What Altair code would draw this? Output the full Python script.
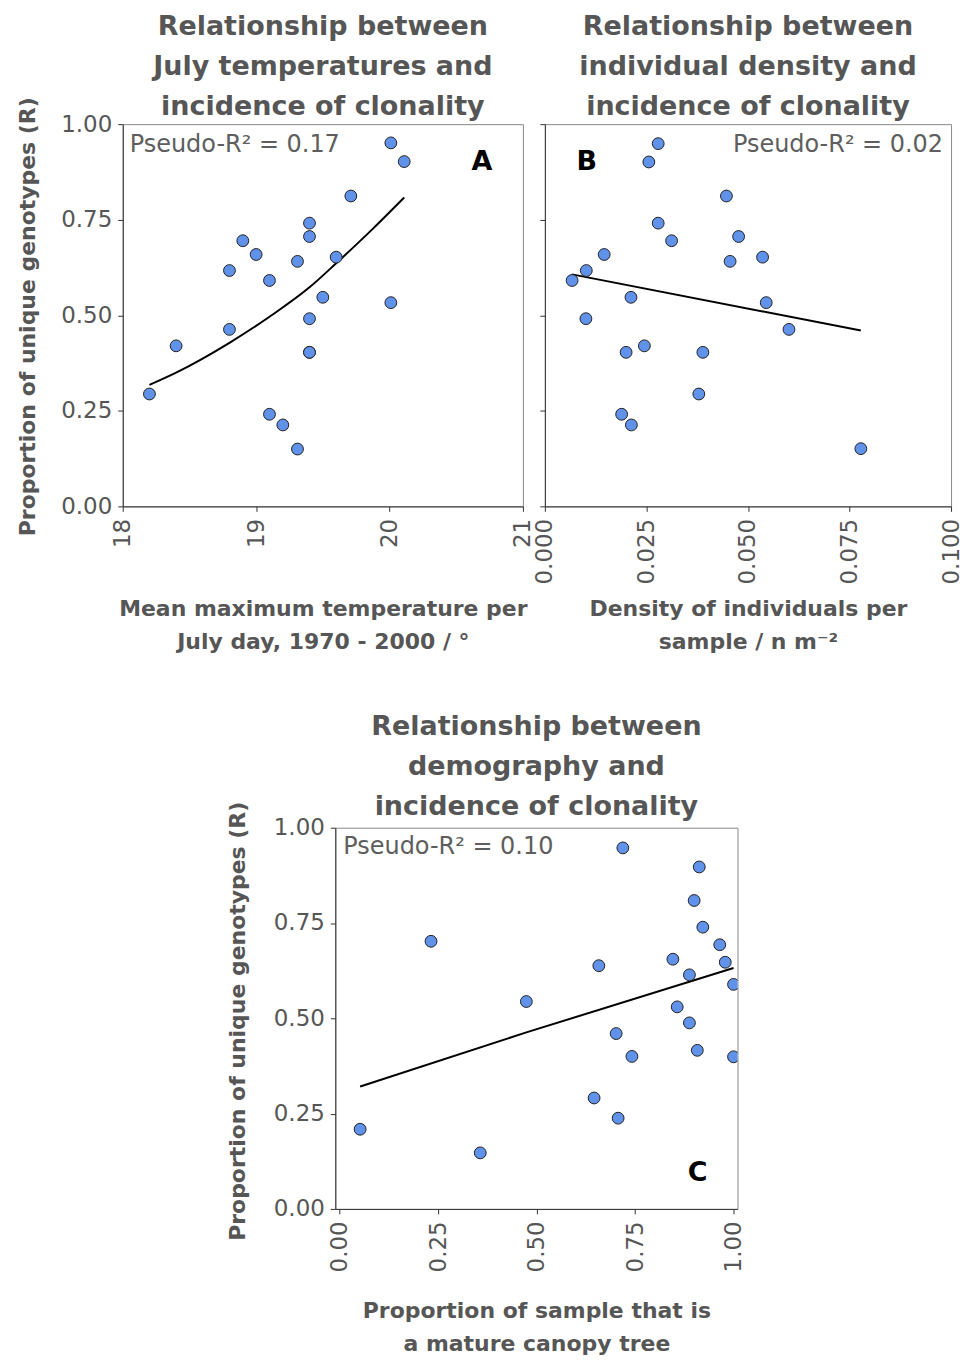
import altair as alt
import pandas as pd

FONT = "DejaVu Sans"
TEXT_GREY = "#565656"
AXIS_DARK = "#333333"
POINT_FILL = "#6192ea"

# Panel A: July maximum temperature vs proportion of unique genotypes
temp_x = [20.01, 20.11, 19.71, 19.40, 19.40, 18.90, 19.00, 19.31, 19.60, 18.80, 19.10,
          19.50, 20.01, 19.40, 18.80, 18.40, 19.40, 19.40, 18.20, 19.10, 19.20, 19.31]
temp_r = [0.951, 0.902, 0.812, 0.741, 0.706, 0.695, 0.659, 0.641, 0.652, 0.617, 0.591,
          0.547, 0.533, 0.491, 0.463, 0.420, 0.403, 0.403, 0.294, 0.241, 0.213, 0.150]
temp_fit_x = [18.2, 18.4, 18.8, 19.1, 19.4, 19.6, 19.88, 20.11]
temp_fit_r = [0.318, 0.350, 0.428, 0.496, 0.573, 0.636, 0.728, 0.808]

# Panel B: density of individuals vs proportion of unique genotypes
dens_x = [0.0279, 0.0256, 0.0447, 0.0279, 0.0477, 0.0312, 0.0146, 0.0456, 0.0536, 0.0102, 0.0067,
          0.0212, 0.0545, 0.0101, 0.0601, 0.0245, 0.0200, 0.0389, 0.0379, 0.0189, 0.0213, 0.0778]
dens_r = [0.949, 0.901, 0.812, 0.741, 0.706, 0.695, 0.659, 0.641, 0.652, 0.617, 0.591,
          0.547, 0.533, 0.491, 0.463, 0.420, 0.403, 0.403, 0.294, 0.241, 0.213, 0.151]
dens_fit_x = [0.0067, 0.0778]
dens_fit_r = [0.607, 0.460]

# Panel C: share of mature canopy trees vs proportion of unique genotypes
canopy_x = [0.719, 0.913, 0.900, 0.922, 0.232, 0.965, 0.846, 0.658, 0.979, 0.888, 1.000,
            0.474, 0.857, 0.888, 0.702, 0.908, 0.742, 1.000, 0.646, 0.707, 0.052, 0.357]
canopy_r = [0.947, 0.897, 0.809, 0.739, 0.702, 0.693, 0.655, 0.638, 0.647, 0.614, 0.589,
            0.544, 0.530, 0.488, 0.460, 0.416, 0.400, 0.399, 0.291, 0.238, 0.209, 0.147]
canopy_fit_x = [0.052, 0.474, 1.000]
canopy_fit_r = [0.321, 0.463, 0.632]

r_ticks = [0, 0.25, 0.5, 0.75, 1]
temp_ticks = [18, 19, 20, 21]
dens_ticks = [0, 0.025, 0.05, 0.075, 0.1]
canopy_ticks = [0, 0.25, 0.5, 0.75, 1]

y_title = "Proportion of unique genotypes (R)"

GAP = 22          # horizontal gap between neighbouring plot areas
ROW_GAP = 59      # vertical gap between the two rows (outer bounds)


def axis_common(**kw):
    return alt.Axis(
        grid=False, domainColor=AXIS_DARK, tickColor=AXIS_DARK, tickSize=5,
        labelFont=FONT, labelFontSize=23, labelColor=TEXT_GREY,
        titleFont=FONT, titleFontSize=22, titleFontWeight="bold", titleColor=TEXT_GREY,
        **kw,
    )


def panel(xs, rs, fit_x, fit_r, x_domain, x_ticks, x_fmt, x_title, title_lines, title_top,
          note, note_pos, note_align, letter, letter_pos, width, height, y_labels):
    pts = pd.DataFrame({"x": xs, "r": rs})
    fit = pd.DataFrame({"x": fit_x, "r": fit_r})

    x_axis = axis_common(values=x_ticks, format=x_fmt, labelAngle=270, labelPadding=7,
                         title=x_title, titleY=109, titleBaseline="alphabetic",
                         titleLineHeight=33)
    y_axis = axis_common(values=r_ticks, format=".2f", labelPadding=6, labels=y_labels)

    xs_ = alt.X("x:Q", scale=alt.Scale(domain=x_domain, nice=False, zero=False), axis=x_axis)
    ys_ = alt.Y("r:Q", scale=alt.Scale(domain=[0, 1], nice=False), axis=y_axis, title=None)

    points = alt.Chart(pts).mark_point(
        filled=True, shape="circle", size=140, fill=POINT_FILL, stroke="#222222",
        strokeWidth=1, opacity=1, fillOpacity=1, clip=True,
    ).encode(x=xs_, y=ys_)

    line = alt.Chart(fit).mark_line(
        color="black", strokeWidth=2, interpolate="monotone"
    ).encode(x=xs_, y=ys_)

    note_mark = alt.Chart(pd.DataFrame({"t": [note]})).mark_text(
        font=FONT, fontSize=24, color="#5e5e5e", align=note_align, baseline="middle",
    ).encode(x=alt.value(note_pos[0]), y=alt.value(note_pos[1]), text="t:N")

    letter_mark = alt.Chart(pd.DataFrame({"t": [letter]})).mark_text(
        font=FONT, fontSize=27, fontWeight="bold", color="black", align="center", baseline="middle",
    ).encode(x=alt.value(letter_pos[0]), y=alt.value(letter_pos[1]), text="t:N")

    # three-line heading centred over the plot area
    heading = alt.Chart(pd.DataFrame({"t": ["\n".join(title_lines)]})).mark_text(
        font=FONT, fontSize=27, fontWeight="bold", color=TEXT_GREY, align="center",
        baseline="top", lineBreak="\n", lineHeight=40,
    ).encode(x=alt.value(width / 2), y=alt.value(title_top), text="t:N")

    return alt.layer(line, points, note_mark, letter_mark, heading).properties(
        width=width, height=height,
    )


def y_label_block(width, height, text_x, text_y):
    """Narrow empty cell carrying the rotated y-axis title of the panel to its right."""
    return alt.Chart(pd.DataFrame({"t": [y_title]})).mark_text(
        font=FONT, fontSize=22, fontWeight="bold", color=TEXT_GREY, angle=270,
        align="center", baseline="middle",
    ).encode(
        x=alt.value(text_x), y=alt.value(text_y), text="t:N"
    ).properties(width=width, height=height, view=alt.ViewBackground(strokeOpacity=0))


panel_a = panel(
    temp_x, temp_r, temp_fit_x, temp_fit_r, [18, 21], temp_ticks, "d",
    ["Mean maximum temperature per", "July day, 1970 - 2000 / °"],
    ["Relationship between", "July temperatures and", "incidence of clonality"], -110,
    "Pseudo-R² = 0.17", (7, 21), "left", "A", (360, 38), 401, 383, True,
)

panel_b = panel(
    dens_x, dens_r, dens_fit_x, dens_fit_r, [0, 0.1], dens_ticks, ".3f",
    ["Density of individuals per", "sample / n m⁻²"],
    ["Relationship between", "individual density and", "incidence of clonality"], -110,
    "Pseudo-R² = 0.02", (399, 21), "right", "B", (42, 38), 407, 383, False,
)

panel_c = panel(
    canopy_x, canopy_r, canopy_fit_x, canopy_fit_r, [-0.011, 1.01], canopy_ticks, ".2f",
    ["Proportion of sample that is", "a mature canopy tree"],
    ["Relationship between", "demography and", "incidence of clonality"], -114,
    "Pseudo-R² = 0.10", (8, 19), "left", "C", (363, 346), 403, 382, True,
)

# left cells: 20 px wide in the top row, 233 px in the bottom row (centres panel C)
ylab_a = y_label_block(20, 383, -53, 193)
ylab_c = y_label_block(233, 382, 158, 194)

top_row = alt.hconcat(ylab_a, panel_a, panel_b, spacing=GAP, bounds="flush")
bottom_row = alt.hconcat(ylab_c, panel_c, spacing=GAP, bounds="flush")

chart = alt.vconcat(top_row, bottom_row, spacing=ROW_GAP).properties(
    padding={"left": 16, "top": 11, "right": 5, "bottom": 5},
    background="white",
).configure_view(stroke="#8a8a8a", strokeWidth=1)

chart.save("out.html", embed_options={"renderer": "svg", "actions": False})
